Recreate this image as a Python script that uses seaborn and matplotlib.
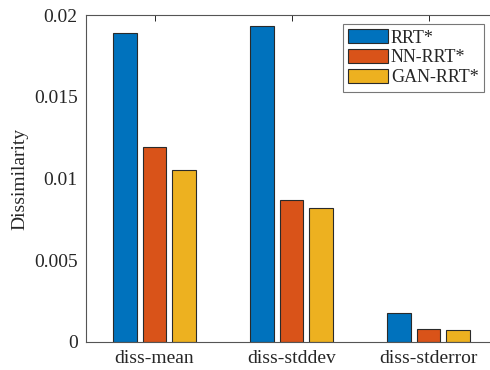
import matplotlib.pyplot as plt
import pandas as pd
import seaborn as sns

# values
metrics = ['diss-mean', 'diss-stddev', 'diss-stderror']
rrt = [0.0189, 0.0193, 0.00175]
nn_rrt = [0.0119, 0.0087, 0.0008]
gan_rrt = [0.0105, 0.0082, 0.00072]
methods = ['RRT*', 'NN-RRT*', 'GAN-RRT*']
yticks = [0, 0.005, 0.01, 0.015, 0.02]
ytick_labels = ['0', '0.005', '0.01', '0.015', '0.02']

df = pd.DataFrame({
    'metric': metrics * 3,
    'method': [methods[0]] * 3 + [methods[1]] * 3 + [methods[2]] * 3,
    'value': rrt + nn_rrt + gan_rrt,
})

sns.set_style('white')
plt.rcParams['font.family'] = ['Liberation Serif', 'DejaVu Serif']

fig = plt.figure(figsize=(4.9, 3.7), dpi=100)
ax = fig.add_axes([86 / 490, 1 - 342 / 370, 411 / 490, 327 / 370])

sns.barplot(data=df, x='metric', y='value', hue='method', order=metrics,
            hue_order=methods, palette=['#0072BD', '#D95319', '#EDB120'],
            width=0.65, gap=0.2, edgecolor='#2a2a2a', linewidth=0.8,
            saturation=1, ax=ax)

ax.set_xlim(-0.5, 2.5)
ax.set_ylim(0, 0.02)
ax.set_yticks(yticks)
ax.set_yticklabels(ytick_labels)
ax.set_xlabel('')
ax.set_ylabel('Dissimilarity', fontsize=14, color='#262626')
ax.tick_params(direction='in', top=True, right=True, labelsize=14,
               colors='#262626', length=4, width=0.7, pad=6)
for s in ax.spines.values():
    s.set_color('#555555')
    s.set_linewidth(0.8)

leg = ax.legend(loc='upper right', bbox_to_anchor=(484 / 490, 1 - 24 / 370),
                bbox_transform=fig.transFigure, borderaxespad=0,
                fontsize=13, handlelength=2.2, handleheight=0.8,
                handletextpad=0.15, labelspacing=0.15, borderpad=0.3,
                fancybox=False, framealpha=1, edgecolor='#777777')
leg.get_frame().set_linewidth(0.8)

fig.savefig('out.png', dpi=100)
